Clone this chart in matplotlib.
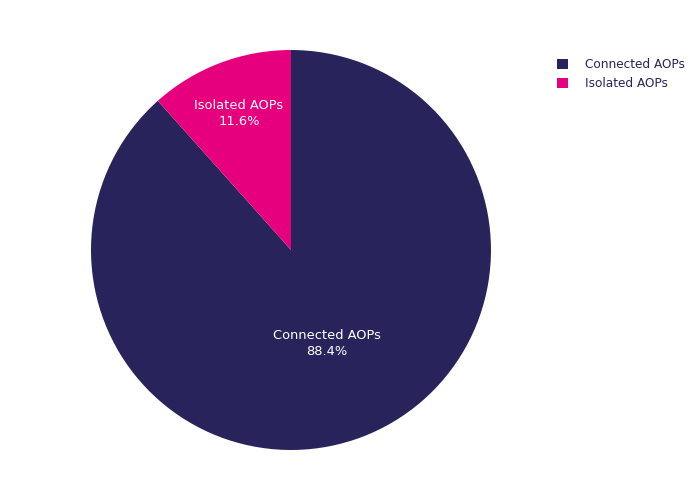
import numpy as np
import matplotlib.pyplot as plt
from matplotlib.patches import Patch

labels = ['Connected AOPs', 'Isolated AOPs']
shares = [88.4, 11.6]
colors = ['#29235C', '#E6007E']
text_radius = [0.5, 0.73]

fig = plt.figure(figsize=(7, 5), dpi=100)
ax = fig.add_axes([0.1300, 0.1, 0.5714, 0.8])

wedges, _ = ax.pie(shares, colors=colors, startangle=90, counterclock=False,
                   labeldistance=None, wedgeprops=dict(linewidth=0))
ax.set_aspect('equal')
ax.set_xlim(-1, 1)
ax.set_ylim(-1, 1)

for w, lab, s, r in zip(wedges, labels, shares, text_radius):
    mid = np.deg2rad((w.theta1 + w.theta2) / 2)
    ax.text(r * np.cos(mid), r * np.sin(mid), f"{lab}\n{s}%", ha='center', va='center',
            color='white', fontsize=9.4, linespacing=1.3)

handles = [Patch(facecolor=c, edgecolor='none') for c in colors]
leg = fig.legend(handles, labels, loc='upper left', bbox_to_anchor=(0.78, 0.905),
                 frameon=False, fontsize=8.7, handlelength=0.95, handleheight=0.95,
                 handletextpad=1.35, labelspacing=0.5)
for t in leg.get_texts():
    t.set_color('#29235C')

fig.savefig('out.png', dpi=100)
